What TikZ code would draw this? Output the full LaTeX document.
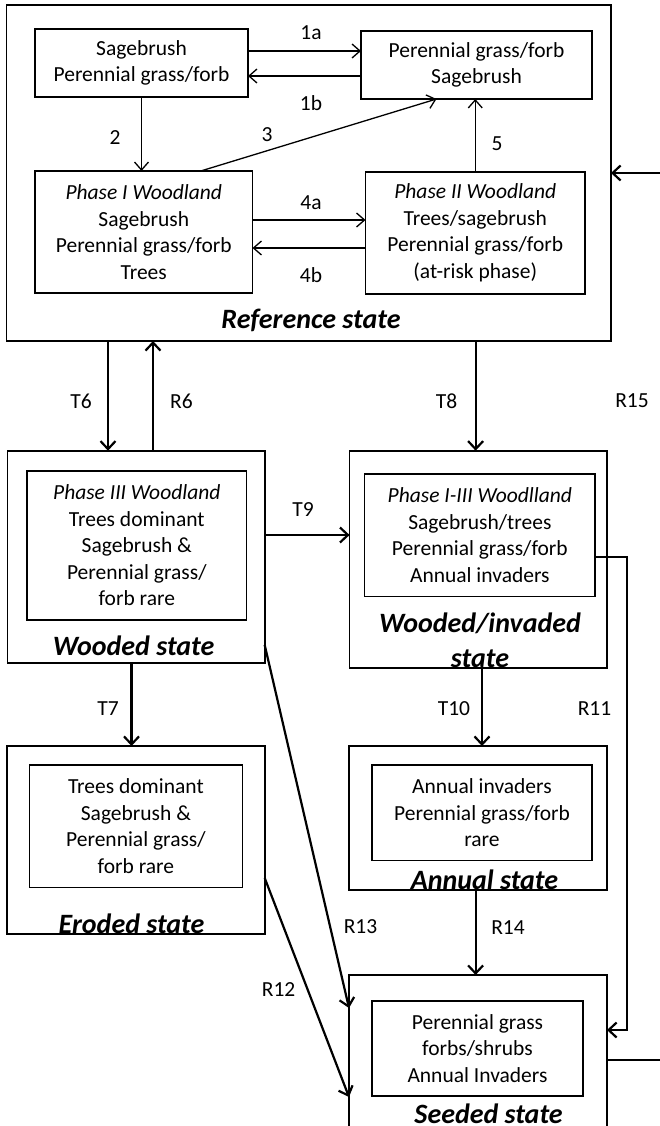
\documentclass[tikz,border=0pt]{standalone}
\usepackage{fontspec}
\setmainfont{Carlito}
\usetikzlibrary{arrows.meta,calc}
\begin{document}
\begin{tikzpicture}[x=1pt,y=-1pt,
  txt/.style={font=\fontsize{21.5}{26.5}\selectfont},
  outerbox/.style={draw,line width=1.6pt,inner sep=0pt,outer sep=0pt},
  innerbox/.style={draw,line width=1.3pt,inner sep=0pt,outer sep=0pt,align=center,txt},
  statelbl/.style={font=\fontsize{28}{30}\selectfont\bfseries\itshape,anchor=base,inner sep=0pt},
  lbl/.style={txt,inner sep=0pt},
  thinarr/.style={line width=1.3pt,-{Straight Barb[length=8pt,width=14pt]}},
  thickarr/.style={line width=2.2pt,-{Straight Barb[length=8pt,width=15pt]}}]
\useasboundingbox (0,0) rectangle (659,1126);

% Reference state
\node[outerbox,minimum width=604.5pt,minimum height=336pt] (R) at (308.75,173) {};
\node[innerbox,minimum width=213pt,minimum height=68pt] (A) at (141.5,63) {Sagebrush\\Perennial grass/forb};
\node[innerbox,minimum width=231pt,minimum height=68pt] (B) at (476.5,65) {Perennial grass/forb\\Sagebrush};
\node[innerbox,minimum width=217.5pt,minimum height=122pt] (C) at (143.75,232) {\textit{Phase I Woodland}\\Sagebrush\\Perennial grass/forb\\Trees};
\node[innerbox,minimum width=219.5pt,minimum height=122pt] (D) at (475.25,233) {\textit{Phase II Woodland}\\Trees/sagebrush\\Perennial grass/forb\\(at-risk phase)};
\node[statelbl] (Rl) at (311,328) {Reference state};

% Wooded state
\node[outerbox,minimum width=257.2pt,minimum height=212pt] (W) at (136.1,556.7) {};
\node[innerbox,minimum width=219.6pt,minimum height=149pt] (Wi) at (136.8,545.5) {\textit{Phase III Woodland}\\Trees dominant\\Sagebrush \&\\Perennial grass/\\forb rare};
\node[statelbl] (Wl) at (133.6,655) {Wooded state};

% Wooded/invaded state
\node[outerbox,minimum width=257.4pt,minimum height=217.3pt] (WI) at (478.3,559.35) {};
\node[innerbox,minimum width=230.3pt,minimum height=122.7pt] (WIi) at (479.85,535.35) {\textit{Phase I-III Woodlland}\\Sagebrush/trees\\Perennial grass/forb\\Annual invaders};
\node[statelbl] (WIl) at (480,632) {Wooded/invaded};
\node[statelbl] (WIl2) at (480,667) {state};

% Eroded state
\node[outerbox,minimum width=257.7pt,minimum height=188pt] (E) at (135.85,840) {};
\node[innerbox,minimum width=213pt,minimum height=122.7pt] (Ei) at (135.9,826.35) {Trees dominant\\Sagebrush \&\\Perennial grass/\\forb rare};
\node[statelbl] (El) at (131.5,933) {Eroded state};

% Annual state
\node[outerbox,minimum width=258pt,minimum height=144pt] (AN) at (478,818) {};
\node[innerbox,minimum width=220pt,minimum height=95.7pt] (ANi) at (482,812.85) {Annual invaders\\Perennial grass/forb\\rare};
\node[statelbl] (ANl) at (484.5,889) {Annual state};

% Seeded state
\node[outerbox,minimum width=258pt,minimum height=165pt] (S) at (478,1057.5) {};
\node[innerbox,minimum width=211pt,minimum height=95pt] (Si) at (477.5,1048.5) {Perennial grass\\forbs/shrubs\\Annual Invaders};
\node[statelbl] (Sl) at (488.6,1123) {Seeded state};

% Reference state internal arrows
\coordinate (a1) at ($(A.east)+(0,-12)$);
\draw[thinarr] (a1) -- (a1 -| B.west);
\coordinate (b1) at ($(A.east)+(0,13)$);
\draw[thinarr] (b1 -| B.west) -- (b1);
\draw[thinarr] (A.south) -- (A.south |- C.north);
\draw[thinarr] ($(C.north)+(57,0)$) -- ($(B.south)+(-40,0)$);
\draw[thinarr] (D.north) -- (D.north |- B.south);
\coordinate (c4a) at ($(C.east)+(0,-12)$);
\draw[thinarr] (c4a) -- (c4a -| D.west);
\coordinate (c4b) at ($(C.east)+(0,16)$);
\draw[thinarr] (c4b -| D.west) -- (c4b);

\node[lbl] (l1a) at (311,33) {1a};
\node[lbl] (l1b) at (311,103) {1b};
\node[lbl] (l2) at (115,138) {2};
\node[lbl] (l3) at (267,135) {3};
\node[lbl] (l5) at (497,144) {5};
\node[lbl] (l4a) at (311,203) {4a};
\node[lbl] (l4b) at (311,275) {4b};

% State transitions
\coordinate (t6) at ($(R.south)+(-200.75,0)$);
\draw[thickarr] (t6) -- (t6 |- W.north);
\coordinate (r6) at ($(R.south)+(-155.75,0)$);
\draw[thickarr] (r6 |- W.north) -- (r6);
\coordinate (t8) at ($(R.south)+(166.85,0)$);
\draw[thickarr] (t8) -- (t8 |- WI.north);
\coordinate (t9) at ($(W.east)+(0,-21.7)$);
\draw[thickarr] (t9) -- (t9 -| WI.west);
\coordinate (t7) at ($(W.south)+(-4.6,0)$);
\draw[thickarr] (t7) -- (t7 |- E.north);
\coordinate (t10) at ($(WI.south)+(3.7,0)$);
\draw[thickarr] (t10) -- (t10 |- AN.north);
\coordinate (r14) at ($(AN.south)+(-2.4,0)$);
\draw[thickarr] (r14) -- (r14 |- S.north);
\draw[thickarr] ($(W.east)+(0,88.3)$) -- ($(S.west)+(0,-49.5)$);
\draw[thickarr] ($(E.east)+(0,38)$) -- ($(S.west)+(0,39.5)$);
\coordinate (r11s) at ($(WIi.east)+(0,21.65)$);
\coordinate (r11e) at ($(S.east)+(0,-27.5)$);
\draw[thickarr] (r11s) -- ++(32,0) |- (r11e);
\draw[thickarr] ($(S.east)+(0,2.5)$) -- ++(63,0) |- (R.east);

\node[lbl] (lT6) at (81,401) {T6};
\node[lbl] (lR6) at (181.5,401) {R6};
\node[lbl] (lT8) at (446.6,401) {T8};
\node[lbl] (lR15) at (632,401) {R15};
\node[lbl] (lT9) at (303,510) {T9};
\node[lbl] (lT7) at (108,709) {T7};
\node[lbl] (lT10) at (454,709) {T10};
\node[lbl] (lR11) at (594.5,709) {R11};
\node[lbl] (lR13) at (360.5,926.7) {R13};
\node[lbl] (lR14) at (508,927.7) {R14};
\node[lbl] (lR12) at (278.6,990) {R12};
\end{tikzpicture}
\end{document}
